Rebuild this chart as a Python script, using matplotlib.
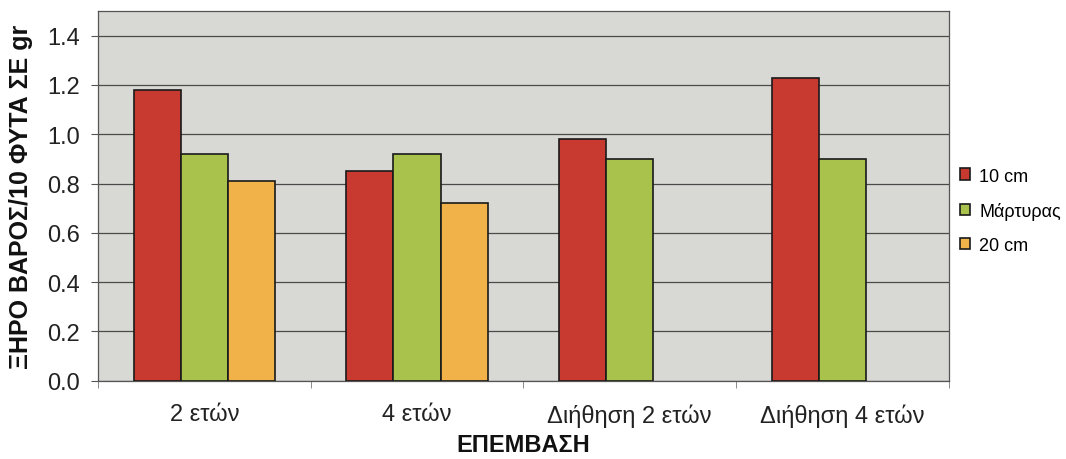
import matplotlib.pyplot as plt
import numpy as np

plt.rcParams['font.family'] = ['Liberation Sans', 'DejaVu Sans']

categories = ['2 ετών', '4 ετών', 'Διήθηση 2 ετών', 'Διήθηση 4 ετών']
series_names = ['10 cm', 'Μάρτυρας', '20 cm']
val_10cm = [1.18, 0.85, 0.98, 1.23]
val_martyras = [0.92, 0.92, 0.90, 0.90]
val_20cm = [0.81, 0.72, np.nan, np.nan]
colors = ['#c83a30', '#a9c24b', '#f1b249']

fig = plt.figure(figsize=(10.66, 4.6), dpi=100)
ax = fig.add_axes([0.092, 0.170, 0.798, 0.804])
ax.set_facecolor('#d8d8d5')

x = np.arange(len(categories))
w = 1 / 4.5  # Excel style gap width 150%
for i, (vals, name, c) in enumerate(zip([val_10cm, val_martyras, val_20cm], series_names, colors)):
    ax.bar(x + (i - 1) * w, vals, width=w, color=c, edgecolor='#1a1a1a', linewidth=1.2,
           label=name, zorder=3)

ax.set_xlim(-0.5, len(categories) - 0.5)
ax.set_ylim(0, 1.5)
ax.set_yticks(np.arange(0, 1.41, 0.2))
ax.set_yticklabels([f'{v:.1f}' for v in np.arange(0, 1.41, 0.2)], fontsize=17, color='#222222')
ax.yaxis.grid(True, color='#4a4a4a', linewidth=0.9, zorder=1)
ax.set_axisbelow(True)

ax.set_xticks(x)
ax.set_xticklabels(categories, fontsize=17, color='#222222')
ax.tick_params(axis='x', which='major', length=0, pad=16)
ax.set_xticks(np.arange(-0.5, len(categories)), minor=True)
ax.tick_params(axis='x', which='minor', length=5, color='#777777', direction='out')
ax.tick_params(axis='y', length=5, color='#555555', direction='out', pad=8)

for s in ax.spines.values():
    s.set_color('#555555')
    s.set_linewidth(0.9)

ax.set_xlabel('ΕΠΕΜΒΑΣΗ', fontsize=17, fontweight='bold', color='#111111')
ax.xaxis.set_label_coords(0.5, -0.14)
ax.set_ylabel('ΞΗΡΟ ΒΑΡΟΣ/10 ΦΥΤΑ ΣΕ gr', fontsize=18, fontweight='bold', color='#111111')
ax.yaxis.set_label_coords(-0.077, 0.5)

leg = ax.legend(loc='center left', bbox_to_anchor=(1.0, 0.46), frameon=False, fontsize=13,
                borderaxespad=0.3, borderpad=0.3,
                handlelength=0.6, handleheight=0.6, handletextpad=0.5, labelspacing=0.95)

fig.savefig('out.png', dpi=100, facecolor='white')
